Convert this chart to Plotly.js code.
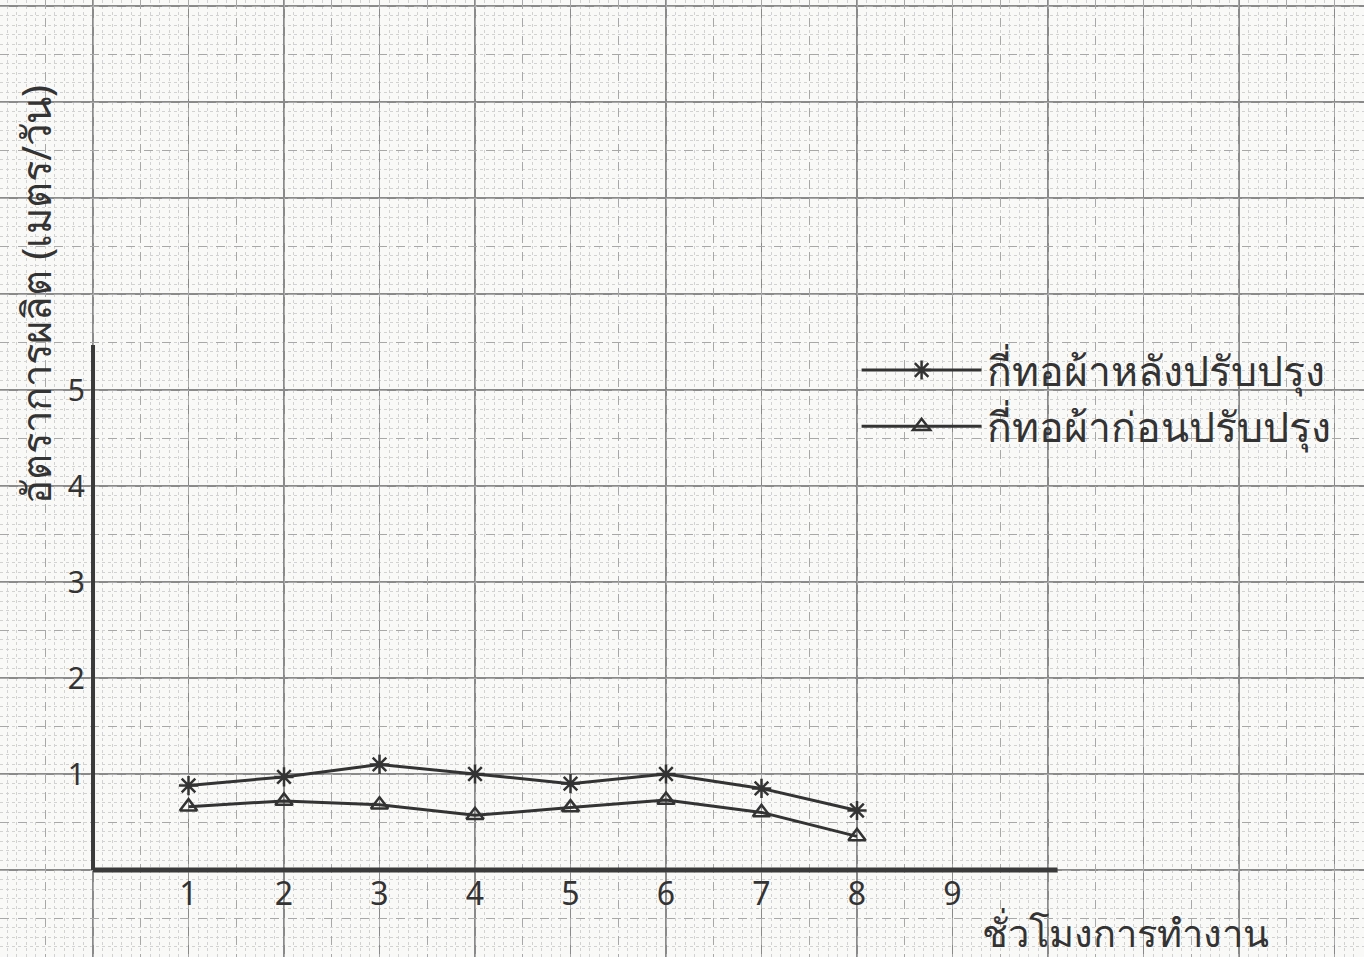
<!DOCTYPE html>
<html>
<head>
<meta charset="utf-8">
<script src="https://cdn.plot.ly/plotly-3.0.1.min.js"></script>
<style>html,body{margin:0;padding:0;background:#f9f9f7;}</style>
</head>
<body>
<div id="chart" style="width:1364px;height:957px;"></div>
<script>
// Data
const hours = [1, 2, 3, 4, 5, 6, 7, 8];
const afterImprovement = [0.88, 0.97, 1.10, 1.00, 0.90, 1.00, 0.85, 0.62];
const beforeImprovement = [0.66, 0.72, 0.68, 0.57, 0.65, 0.73, 0.60, 0.35];
const seriesNames = ["กี่ทอผ้าหลังปรับปรุง", "กี่ทอผ้าก่อนปรับปรุง"];
const xTickVals = [1, 2, 3, 4, 5, 6, 7, 8, 9];
const xTickText = ["1", "2", "3", "4", "5", "6", "7", "8", "9"];
const yTickVals = [1, 2, 3, 4, 5];
const yTickText = ["1", "2", "3", "4", "5"];
const yTitle = "อัตราการผลิต (เมตร/วัน)";
const xTitle = "ชั่วโมงการทำงาน";

const xRange = [-0.974, 13.309];
const yRange = [-0.906, 9.0625];
const ink = "#333333";
const font = "Noto Sans, DejaVu Sans, sans-serif";

const traces = [
  {
    x: hours, y: afterImprovement, name: seriesNames[0],
    type: "scatter", mode: "lines+markers",
    line: {color: ink, width: 3},
    marker: {symbol: "asterisk-open", size: 16, color: ink, line: {color: ink, width: 2.5}}
  },
  {
    x: hours, y: beforeImprovement, name: seriesNames[1],
    type: "scatter", mode: "lines+markers",
    line: {color: ink, width: 3},
    marker: {symbol: "triangle-up-open", size: 15, color: ink, line: {color: ink, width: 2.5}}
  }
];

const baseAxis = {
  showline: false, zeroline: false, ticks: "", showticklabels: false,
  fixedrange: true
};

const layout = {
  width: 1364, height: 957,
  margin: {l: 0, r: 0, t: 0, b: 0, pad: 0},
  paper_bgcolor: "#f9f9f7",
  plot_bgcolor: "#f9f9f7",
  showlegend: true,
  legend: {
    x: 0.628, y: 0.648, xanchor: "left", yanchor: "top",
    bgcolor: "rgba(0,0,0,0)",
    font: {family: font, size: 41, color: ink},
    itemwidth: 120, tracegroupgap: 0
  },
  xaxis: Object.assign({}, baseAxis, {
    range: xRange, dtick: 1, tick0: 0,
    showgrid: true, gridcolor: "#8a8a8a", gridwidth: 1.2,
    minor: {dtick: 0.1, showgrid: true, gridcolor: "#d2d2d2", gridwidth: 1, griddash: "dot"}
  }),
  yaxis: Object.assign({}, baseAxis, {
    range: yRange, dtick: 1, tick0: 0,
    showgrid: true, gridcolor: "#8a8a8a", gridwidth: 1.2,
    minor: {dtick: 0.1, showgrid: true, gridcolor: "#d2d2d2", gridwidth: 1, griddash: "dot"}
  }),
  xaxis3: Object.assign({}, baseAxis, {
    overlaying: "x", range: xRange, dtick: 0.5, tick0: 0,
    showgrid: true, gridcolor: "#a8a8a8", gridwidth: 1, griddash: "dash"
  }),
  yaxis3: Object.assign({}, baseAxis, {
    overlaying: "y", range: yRange, dtick: 0.5, tick0: 0,
    showgrid: true, gridcolor: "#a8a8a8", gridwidth: 1, griddash: "dash"
  }),
  xaxis2: {
    overlaying: "x", anchor: "free", position: 0.0909, range: xRange,
    showgrid: false, zeroline: false, showline: false, ticks: "",
    tickmode: "array", tickvals: xTickVals, ticktext: xTickText,
    tickfont: {family: font, size: 32, color: ink}, ticklabelstandoff: 2, fixedrange: true
  },
  yaxis2: {
    overlaying: "y", anchor: "free", position: 0.0682, side: "left", range: yRange,
    showgrid: false, zeroline: false, showline: false, ticks: "",
    tickmode: "array", tickvals: yTickVals, ticktext: yTickText,
    tickfont: {family: font, size: 30, color: ink}, ticklabelstandoff: 8, fixedrange: true
  },
  shapes: [
    {type: "line", xref: "x", yref: "y", x0: 0, x1: 0, y0: 0, y1: 5.47,
     line: {color: "#3a3a3a", width: 4}},
    {type: "line", xref: "x", yref: "y", x0: 0, x1: 10.1, y0: 0, y1: 0,
     line: {color: "#3a3a3a", width: 5}}
  ],
  annotations: [
    {text: yTitle, xref: "paper", yref: "paper", x: 0.026, y: 0.692,
     xanchor: "center", yanchor: "middle",
     textangle: -90, showarrow: false, font: {family: font, size: 40, color: ink}},
    {text: xTitle, xref: "paper", yref: "paper", x: 0.825, y: 0.026,
     xanchor: "center", yanchor: "middle",
     showarrow: false, font: {family: font, size: 38, color: ink}}
  ]
};

// dummy traces to activate the overlay axes
traces.push({x: [], y: [], xaxis: "x2", yaxis: "y2", showlegend: false, hoverinfo: "skip", type: "scatter"});
traces.push({x: [], y: [], xaxis: "x3", yaxis: "y3", showlegend: false, hoverinfo: "skip", type: "scatter"});

Plotly.newPlot("chart", traces, layout, {staticPlot: true, displayModeBar: false});
</script>
</body>
</html>
